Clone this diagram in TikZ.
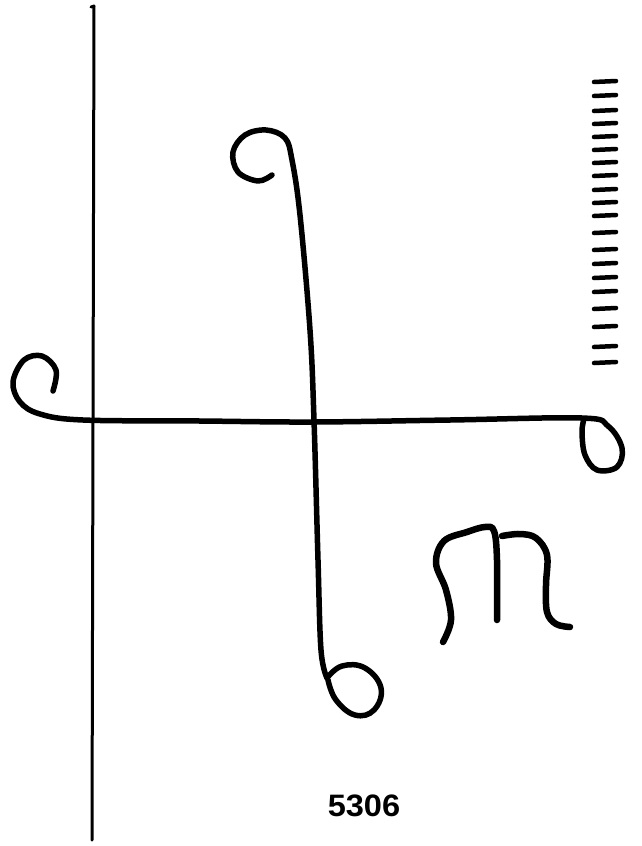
\documentclass[tikz,border=0pt]{standalone}
\usepackage{fontspec}
\setmainfont{Liberation Sans}

\begin{document}
\begin{tikzpicture}[x=1pt, y=-1pt,
  ink/.style={line width=5.5pt, line cap=round, line join=round},
  heavy/.style={ink, line width=6.5pt},
  hairline/.style={line width=3pt, line cap=round, line join=round},
  tick/.style={line width=4.5pt, line cap=round},
  every node/.style={font=\bfseries\fontsize{31}{31}\selectfont}]
			\useasboundingbox (0,0) rectangle (641,846);
			% long upright line
			\draw[hairline] (91,7) -- (94,6) -- (93,420) -- (92,840);
			% cross bar with left spiral and right loop
			\draw[ink] plot[smooth, tension=0.6] coordinates {(53,391) (56,370) (42,356) (24,360) (13,382) (20,402) (40,414) (83,420) (200,421) (313,422) (450,420) (582,418) (608,426) (622,448) (617,467) (597,470) (585,455) (582,432) (584,419)};
			% upright stroke with top curl and bottom loop
			\draw[ink] plot[smooth, tension=0.6] coordinates {(272,175) (258,181) (238,172) (233,152) (245,135) (266,130) (285,138) (292,160) (300,215) (310,330) (314,420) (318,560) (321,650) (327,678)};
			\draw[ink] plot[smooth, tension=0.7] coordinates {(327,678) (342,666) (365,668) (381,688) (374,710) (355,715) (336,700) (328,680)};
			% the letter
			\draw[heavy] plot[smooth, tension=0.6] coordinates {(443,642) (451,620) (446,590) (436,563) (444,541) (467,532) (485,527) (494,531) (497,560) (497,620)};
			\draw[heavy] plot[smooth, tension=0.6] coordinates {(502,536) (520,534) (536,538) (547,555) (546,585) (547,612) (556,624) (570,627)};
			% scale marks
			\foreach \y in {82,96,111,124,137,150,163,176,190,203,216,233,250,264,278,292,309,327,347,363}
				\draw[tick] (594,\y) -- (616,\y-1);
			\node[xscale=1.05] (num) at (364,806) {5306};
		\end{tikzpicture}
\end{document}
